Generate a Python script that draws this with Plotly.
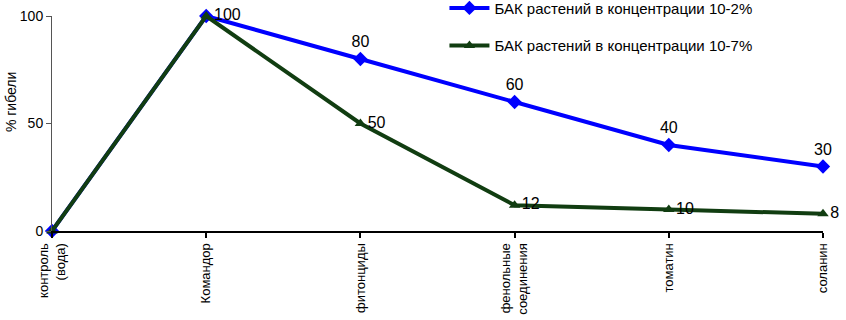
import plotly.graph_objects as go

categories = ["контроль<br>(вода)", "Командор", "фитонциды", "фенольные<br>соединения", "томатин", "соланин"]
series_blue_name = "БАК растений в концентрации 10-2%"
series_green_name = "БАК растений в концентрации 10-7%"
blue_values = [0, 100, 80, 60, 40, 30]
green_values = [0, 100, 50, 12, 10, 8]
blue_labels = ["", "100", "80", "60", "40", "30"]
green_labels = ["", "", "50", "12", "10", "8"]
blue_label_pos = ["top center", "middle right", "top center", "top center", "top center", "top center"]
green_label_pos = ["middle right"] * 6
y_ticks = [0, 50, 100]

FONT = "Arial, Liberation Sans, sans-serif"
BLUE = "#0000FF"
GREEN = "#113D11"

x_idx = list(range(len(categories)))

fig = go.Figure()
fig.add_trace(go.Scatter(
    x=x_idx, y=blue_values, name=series_blue_name, legendgroup="a",
    mode="lines+markers+text", text=blue_labels, textposition=blue_label_pos,
    textfont=dict(size=16, color="black", family=FONT),
    line=dict(color=BLUE, width=4),
    marker=dict(symbol="diamond", size=11, color=BLUE),
    cliponaxis=False,
))
fig.add_trace(go.Scatter(
    x=x_idx, y=green_values, name=series_green_name, legendgroup="b",
    mode="lines+markers+text", text=green_labels, textposition=green_label_pos,
    textfont=dict(size=16, color="black", family=FONT),
    line=dict(color=GREEN, width=4),
    marker=dict(symbol="triangle-up", size=10, color=GREEN),
    cliponaxis=False,
))

fig.update_layout(
    width=846, height=320,
    margin=dict(l=52, r=23, t=16, b=89, autoexpand=False),
    paper_bgcolor="white", plot_bgcolor="white",
    font=dict(family=FONT, size=14, color="black"),
    showlegend=True,
    legend=dict(
        x=0.509, y=1.113, xanchor="left", yanchor="top",
        bgcolor="rgba(0,0,0,0)", font=dict(size=15, family=FONT),
        tracegroupgap=15, itemwidth=40,
    ),
    xaxis=dict(
        range=[0, 5], tickmode="array", tickvals=x_idx, ticktext=categories,
        tickangle=-90, showgrid=False, zeroline=False, automargin=False,
        showline=True, linecolor="black", linewidth=2,
        ticks="outside", ticklen=5, tickcolor="black", tickwidth=2,
        tickfont=dict(size=13, family=FONT),
    ),
    yaxis=dict(
        range=[0, 100], tickvals=y_ticks, showgrid=False, zeroline=False, automargin=False,
        showline=True, linecolor="#555555", linewidth=1,
        ticks="outside", ticklen=5, tickcolor="#555555",
        tickfont=dict(size=14, family=FONT),
    ),
    annotations=[dict(
        text="% гибели", xref="paper", yref="paper", x=-0.066, y=0.6,
        textangle=-90, showarrow=False, font=dict(size=14, family=FONT),
        xanchor="left", yanchor="middle",
    )],
)

# remove the browser's default 8px body margin so the figure fills the window
fig.write_html(
    "out.html",
    config={"displayModeBar": False},
    post_script="document.body.style.margin='0';",
)
